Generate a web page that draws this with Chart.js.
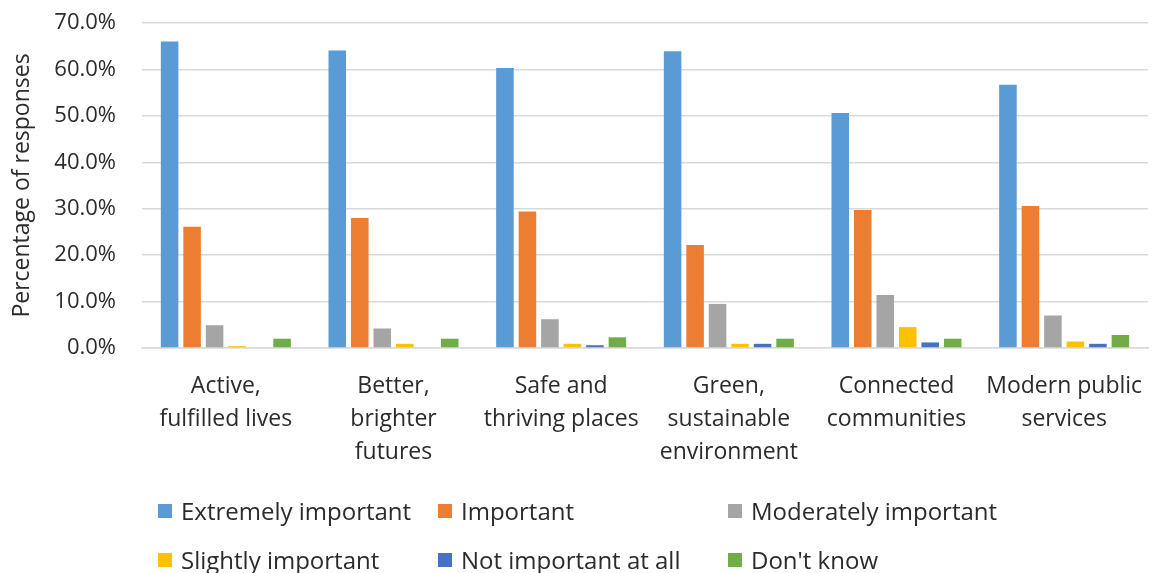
<!DOCTYPE html>
<html>
<head>
<meta charset="utf-8">
<script src="https://cdn.jsdelivr.net/npm/chart.js@4.4.1/dist/chart.umd.min.js"></script>
<style>
  html, body { margin: 0; padding: 0; background: #fff; }
  #wrap { position: relative; width: 1158px; height: 573px; }
  #legend { position: absolute; left: 0; top: 0; width: 1158px; height: 573px; pointer-events: none;
    font-family: "Open Sans", "Noto Sans", sans-serif; font-size: 24px; color: #2b2b2b; }
  .item { position: absolute; display: flex; align-items: center; white-space: nowrap; line-height: 28px; }
  .box { width: 14px; height: 14px; margin-right: 9px; }
</style>
</head>
<body>
<div id="wrap">
  <canvas id="grafico" width="1158" height="573"></canvas>
  <div id="legend"></div>
</div>
<script>
// Dados (em %)
const categorias = [
  ["Active,", "fulfilled lives"],
  ["Better,", "brighter", "futures"],
  ["Safe and", "thriving places"],
  ["Green,", "sustainable", "environment"],
  ["Connected", "communities"],
  ["Modern public", "services"]
];
const series = ["Extremely important", "Important", "Moderately important", "Slightly important", "Not important at all", "Don't know"];
const cores = ["#5b9bd5", "#ed7d31", "#a5a5a5", "#ffc000", "#4472c4", "#70ad47"];

const extremamente = [66.0, 64.1, 60.3, 63.9, 50.6, 56.7];
const importante = [26.1, 28.0, 29.4, 22.2, 29.7, 30.6];
const moderado = [4.9, 4.2, 6.2, 9.5, 11.4, 7.0];
const pouco = [0.4, 0.9, 0.9, 0.9, 4.5, 1.4];
const nada = [0.0, 0.0, 0.6, 0.9, 1.2, 0.9];
const naoSei = [2.0, 2.0, 2.3, 2.0, 2.0, 2.8];

const ticksY = [0, 10, 20, 30, 40, 50, 60, 70];

const valores = [extremamente, importante, moderado, pouco, nada, naoSei];
const fonte = "'Open Sans', 'Noto Sans', sans-serif";
const corTexto = "#2b2b2b";

let grafico = new Chart(document.getElementById("grafico"), {
  type: "bar",
  data: {
    labels: categorias,
    datasets: series.map((nome, i) => ({
      label: nome,
      data: valores[i],
      backgroundColor: cores[i],
      categoryPercentage: 0.805,
      barPercentage: 0.78,
    })),
  },
  options: {
    responsive: false,
    animation: false,
    layout: { padding: { left: 0, right: 10, top: 23, bottom: 0 } },
    plugins: {
      legend: { display: false },
      tooltip: { enabled: false },
    },
    scales: {
      x: {
        grid: { display: false, drawTicks: false },
        border: { color: "#d9d9d9", width: 1.5 },
        ticks: {
          color: corTexto,
          font: { family: fonte, size: 23, lineHeight: 1.43 },
          padding: 22,
          maxRotation: 0,
          autoSkip: false,
        },
        afterFit: (s) => { s.height = 225; s.paddingLeft = 0; s.paddingRight = 0; },
      },
      y: {
        min: 0,
        max: 70,
        afterBuildTicks: (s) => { s.ticks = ticksY.map(v => ({ value: v })); },
        grid: { color: "#d9d9d9", lineWidth: 1.5, drawTicks: false },
        border: { display: false },
        ticks: {
          color: corTexto,
          font: { family: fonte, size: 22 },
          padding: 26,
          callback: (v) => v.toFixed(1) + "%",
        },
        title: {
          display: true,
          text: "Percentage of responses",
          color: corTexto,
          font: { family: fonte, size: 23 },
          padding: { top: 9, bottom: 0 },
        },
        afterFit: (s) => { s.width = 142; s.paddingTop = 0; s.paddingBottom = 0; },
      },
    },
  },
});

// Legenda em HTML, duas linhas com colunas alinhadas
const legenda = document.getElementById("legend");
const posX = [158, 438, 728];
const posY = [511, 560];
series.forEach((nome, i) => {
  const el = document.createElement("div");
  el.className = "item";
  el.style.left = posX[i % 3] + "px";
  el.style.top = (posY[Math.floor(i / 3)] - 14) + "px";
  el.innerHTML = '<span class="box" style="background:' + cores[i] + '"></span><span>' + nome + '</span>';
  legenda.appendChild(el);
});
</script>
</body>
</html>
